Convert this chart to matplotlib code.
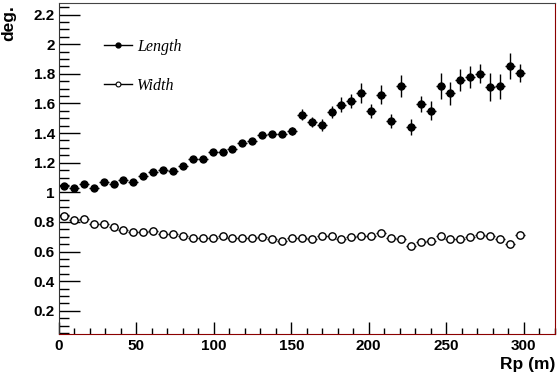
import matplotlib.pyplot as plt
from matplotlib.lines import Line2D
from matplotlib.ticker import MultipleLocator, FormatStrFormatter

# Rp bins: 50 bins over 0-320 m, 47 filled
bin_width = 6.4
n_pts = 47
rp = [bin_width * (i + 0.5) for i in range(n_pts)]

length = [1.043, 1.032, 1.055, 1.028, 1.068, 1.053, 1.080, 1.073, 1.113, 1.136,
          1.154, 1.144, 1.176, 1.228, 1.228, 1.269, 1.275, 1.291, 1.336, 1.349,
          1.387, 1.397, 1.394, 1.417, 1.525, 1.475, 1.453, 1.543, 1.592, 1.615,
          1.673, 1.549, 1.659, 1.484, 1.718, 1.441, 1.596, 1.552, 1.718, 1.668,
          1.758, 1.777, 1.802, 1.711, 1.716, 1.853, 1.808]
length_err = [0.02, 0.015, 0.015, 0.015, 0.015, 0.015, 0.015, 0.015, 0.015, 0.015,
              0.015, 0.015, 0.015, 0.02, 0.02, 0.02, 0.02, 0.02, 0.02, 0.02,
              0.02, 0.02, 0.02, 0.027, 0.04, 0.031, 0.04, 0.04, 0.052, 0.049,
              0.067, 0.045, 0.065, 0.047, 0.072, 0.056, 0.054, 0.067, 0.085, 0.079,
              0.076, 0.076, 0.067, 0.094, 0.083, 0.085, 0.061]

width = [0.839, 0.814, 0.821, 0.785, 0.789, 0.769, 0.749, 0.729, 0.735, 0.738,
         0.719, 0.717, 0.704, 0.692, 0.690, 0.692, 0.708, 0.695, 0.695, 0.695,
         0.697, 0.682, 0.672, 0.695, 0.690, 0.682, 0.702, 0.702, 0.686, 0.697,
         0.708, 0.702, 0.726, 0.690, 0.682, 0.638, 0.665, 0.670, 0.702, 0.682,
         0.688, 0.697, 0.715, 0.706, 0.688, 0.652, 0.715]
width_err = [0.008] * 20 + [0.01] * 27

fig = plt.figure(figsize=(5.57, 3.78), dpi=100)
ax = fig.add_axes([59 / 557, 1 - 333.5 / 378, 495.5 / 557, 330.8 / 378])

ax.errorbar(rp, length, xerr=bin_width / 2, yerr=length_err, fmt='o', color='black',
            ms=5, elinewidth=1, capsize=0)
ax.errorbar(rp, width, xerr=bin_width / 2, yerr=width_err, fmt='o', color='black',
            mfc='white', mec='black', mew=1, ms=5.3, elinewidth=1, capsize=0)

ax.set_xlim(0, 320)
ax.set_ylim(0.047, 2.28)
ax.xaxis.set_major_locator(MultipleLocator(50))
ax.xaxis.set_minor_locator(MultipleLocator(10))
ax.yaxis.set_minor_locator(MultipleLocator(0.05))
ax.yaxis.set_major_formatter(FormatStrFormatter('%g'))
ax.set_yticks([0.2 * k for k in range(1, 12)])

ax.tick_params(axis='y', which='major', direction='in', length=15, width=1, pad=3)
ax.tick_params(axis='y', which='minor', direction='in', length=7.5, width=1)
ax.tick_params(axis='x', which='major', direction='in', length=9, width=1, pad=4)
ax.tick_params(axis='x', which='minor', direction='in', length=4.5, width=1)
for lab in ax.get_xticklabels() + ax.get_yticklabels():
    lab.set_fontfamily('Liberation Sans')
    lab.set_fontweight('bold')
    lab.set_fontsize(11)

ax.spines['left'].set_color('#333333')
ax.spines['top'].set_color('#444444')
ax.spines['right'].set_color('#8b0000')
ax.spines['bottom'].set_color('#8b0000')

fig.text(0.002, 1 - 5 / 378, 'deg.', rotation=90, ha='left', va='top',
         fontfamily='Liberation Sans', fontweight='bold', fontsize=12.5)
fig.text(555 / 557, 1 - 365 / 378, 'Rp (m)', ha='right', va='center',
         fontfamily='Liberation Sans', fontweight='bold', fontsize=12.5)

# legend: line with marker, no vertical bars
handles = [Line2D([], [], color='black', lw=1, marker='o', ms=3.5),
           Line2D([], [], color='black', lw=1, marker='o', ms=3.5, mfc='white', mew=0.8)]
ax.legend(handles, ['Length', 'Width'], loc='upper left', bbox_to_anchor=(0.078, 0.91),
          frameon=False, handlelength=1.75, handletextpad=0.3, labelspacing=1.45,
          borderaxespad=0, prop={'family': 'Liberation Serif', 'style': 'italic', 'size': 11.5})

fig.savefig('out.png', dpi=100)
